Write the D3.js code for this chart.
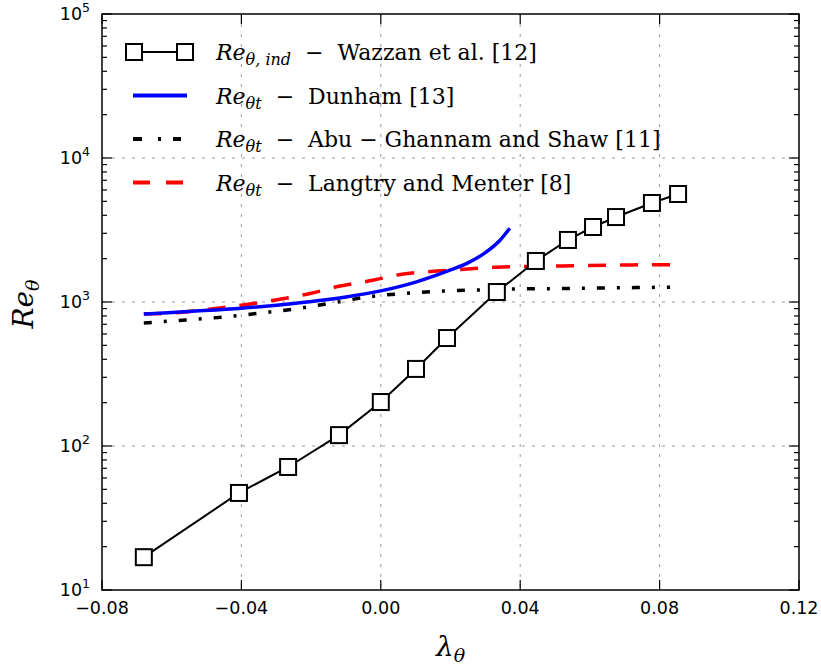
<!DOCTYPE html>
<html>
  <head>
    <meta charset="utf-8">
    <title>Re theta vs lambda theta</title>
    <script src="https://d3js.org/d3.v7.min.js"></script>
    <style>
      body { margin: 0; background: #fff; }
      svg text { fill: #000; }
      .tick-label { font-family: "DejaVu Sans", sans-serif; font-size: 17.5px; }
      .math { font-family: "DejaVu Serif", "Liberation Serif", serif; }
    </style>
  </head>
  <body>
    <div id="chart"></div>
    <script>
      // Wazzan et al. [12] - Re_theta,ind (squares)
      var wazzanLambda = [-0.068, -0.0407, -0.0266, -0.012, 0.0, 0.0101, 0.019, 0.0333, 0.0445, 0.0537, 0.0609, 0.0675, 0.0778, 0.0853];
      var wazzanRe = [16.9, 47.2, 71.5, 119, 202, 343, 562, 1173, 1927, 2697, 3318, 3890, 4870, 5623];

      // Dunham [13]
      var dunhamLambda = [-0.068, -0.055, -0.04, -0.025, -0.01, 0.0, 0.01, 0.02, 0.025, 0.03, 0.034, 0.037];
      var dunhamRe = [825, 860, 905, 978, 1085, 1195, 1375, 1670, 1870, 2200, 2650, 3250];

      // Abu-Ghannam and Shaw [11]
      var agsLambda = [-0.068, -0.056, -0.045, -0.035, -0.024, -0.014, -0.003, 0.0075, 0.018, 0.029, 0.040, 0.051, 0.061, 0.072, 0.083];
      var agsRe = [715, 750, 787, 835, 900, 985, 1090, 1150, 1190, 1215, 1232, 1240, 1250, 1258, 1268];

      // Langtry and Menter [8]
      var lmLambda = [-0.068, -0.057, -0.047, -0.038, -0.029, -0.020, -0.012, -0.002, 0.006, 0.016, 0.025, 0.033, 0.052, 0.072, 0.083];
      var lmRe = [825, 850, 905, 965, 1045, 1150, 1285, 1420, 1560, 1640, 1695, 1745, 1780, 1810, 1815];

      var xTicks = [-0.08, -0.04, 0.0, 0.04, 0.08, 0.12];
      var xTickLabels = ["\u22120.08", "\u22120.04", "0.00", "0.04", "0.08", "0.12"];
      var yExponents = [1, 2, 3, 4, 5];

      var W = 821, H = 666;
      var margin = { left: 102, right: 22, top: 14, bottom: 76 };

      var svg = d3.select("#chart").append("svg")
        .attr("width", W)
        .attr("height", H);

      var x = d3.scaleLinear().domain([-0.08, 0.12]).range([margin.left, W - margin.right]);
      var y = d3.scaleLog().domain([10, 1e5]).range([H - margin.bottom, margin.top]);

      var x0 = x.range()[0], x1 = x.range()[1];
      var y0 = y.range()[0], y1 = y.range()[1];

      // grid
      var grid = svg.append("g")
        .attr("stroke", "#9a9a9a")
        .attr("stroke-width", 1)
        .attr("stroke-dasharray", "3,7");
      grid.selectAll("line.gx")
        .data(xTicks.slice(1, -1))
        .enter().append("line")
          .attr("x1", function(d) { return x(d); })
          .attr("x2", function(d) { return x(d); })
          .attr("y1", y1).attr("y2", y0);
      grid.selectAll("line.gy")
        .data([100, 1000, 10000])
        .enter().append("line")
          .attr("y1", function(d) { return y(d); })
          .attr("y2", function(d) { return y(d); })
          .attr("x1", x0).attr("x2", x1);

      // ticks (inward, on all four sides)
      var ticks = svg.append("g").attr("stroke", "#000").attr("stroke-width", 1.2);
      xTicks.forEach(function(t) {
        ticks.append("line").attr("x1", x(t)).attr("x2", x(t)).attr("y1", y0).attr("y2", y0 - 10);
        ticks.append("line").attr("x1", x(t)).attr("x2", x(t)).attr("y1", y1).attr("y2", y1 + 10);
      });
      var minorVals = [];
      yExponents.forEach(function(e) {
        if (e < 5) {
          for (var m = 2; m <= 9; m++) minorVals.push(m * Math.pow(10, e));
        }
      });
      yExponents.forEach(function(e) {
        var v = Math.pow(10, e);
        ticks.append("line").attr("x1", x0).attr("x2", x0 + 10).attr("y1", y(v)).attr("y2", y(v));
        ticks.append("line").attr("x1", x1).attr("x2", x1 - 10).attr("y1", y(v)).attr("y2", y(v));
      });
      minorVals.forEach(function(v) {
        ticks.append("line").attr("x1", x0).attr("x2", x0 + 5).attr("y1", y(v)).attr("y2", y(v));
        ticks.append("line").attr("x1", x1).attr("x2", x1 - 5).attr("y1", y(v)).attr("y2", y(v));
      });

      // tick labels
      svg.selectAll("text.xl")
        .data(xTicks)
        .enter().append("text")
          .attr("class", "tick-label")
          .attr("x", function(d) { return x(d); })
          .attr("y", y0 + 24)
          .attr("text-anchor", "middle")
          .text(function(d, i) { return xTickLabels[i]; });

      var yl = svg.selectAll("text.yl")
        .data(yExponents)
        .enter().append("text")
          .attr("class", "tick-label")
          .attr("x", x0 - 12)
          .attr("y", function(d) { return y(Math.pow(10, d)) + 6; })
          .attr("text-anchor", "end");
      yl.append("tspan").text("10");
      yl.append("tspan")
        .attr("dy", -8)
        .style("font-size", "12.5px")
        .text(function(d) { return d; });

      // series
      var line = d3.line()
        .x(function(d) { return x(d[0]); })
        .y(function(d) { return y(d[1]); });
      var smooth = d3.line()
        .curve(d3.curveMonotoneX)
        .x(function(d) { return x(d[0]); })
        .y(function(d) { return y(d[1]); });

      var wazzan = d3.zip(wazzanLambda, wazzanRe);
      var dunham = d3.zip(dunhamLambda, dunhamRe);
      var ags = d3.zip(agsLambda, agsRe);
      var lm = d3.zip(lmLambda, lmRe);

      svg.append("path").datum(ags).attr("d", smooth)
        .attr("fill", "none").attr("stroke", "#000").attr("stroke-width", 3.5)
        .attr("stroke-dasharray", "8,12,3,12");
      svg.append("path").datum(lm).attr("d", smooth)
        .attr("fill", "none").attr("stroke", "#ff0000").attr("stroke-width", 3.5)
        .attr("stroke-dasharray", "18,14");
      svg.append("path").datum(dunham).attr("d", smooth)
        .attr("fill", "none").attr("stroke", "#0000ff").attr("stroke-width", 3.5);

      svg.append("path").datum(wazzan).attr("d", line)
        .attr("fill", "none").attr("stroke", "#000").attr("stroke-width", 2);
      svg.selectAll("rect.sq")
        .data(wazzan)
        .enter().append("rect")
          .attr("x", function(d) { return x(d[0]) - 8; })
          .attr("y", function(d) { return y(d[1]) - 8; })
          .attr("width", 16).attr("height", 16)
          .attr("fill", "#fff").attr("stroke", "#000").attr("stroke-width", 2);

      // frame
      svg.append("rect")
        .attr("x", x0).attr("y", y1)
        .attr("width", x1 - x0).attr("height", y0 - y1)
        .attr("fill", "none").attr("stroke", "#000").attr("stroke-width", 1.5);

      // legend
      var legendItems = [
        { sub: "\u03b8, ind", text: "  \u2212  Wazzan et al. [12]", kind: "square" },
        { sub: "\u03b8t", text: "  \u2212  Dunham [13]", kind: "blue" },
        { sub: "\u03b8t", text: "  \u2212  Abu \u2212 Ghannam and Shaw [11]", kind: "dashdot" },
        { sub: "\u03b8t", text: "  \u2212  Langtry and Menter [8]", kind: "red" }
      ];
      var lg = svg.append("g");
      legendItems.forEach(function(it, i) {
        var cy = 52 + i * 43.5;
        if (it.kind === "square") {
          lg.append("line").attr("x1", 134).attr("x2", 185).attr("y1", cy).attr("y2", cy)
            .attr("stroke", "#000").attr("stroke-width", 2);
          [134, 185].forEach(function(px) {
            lg.append("rect").attr("x", px - 8).attr("y", cy - 8).attr("width", 16).attr("height", 16)
              .attr("fill", "#fff").attr("stroke", "#000").attr("stroke-width", 2);
          });
        } else {
          var l = lg.append("line").attr("x1", 133).attr("x2", 187).attr("y1", cy).attr("y2", cy)
            .attr("stroke-width", 4);
          if (it.kind === "blue") l.attr("stroke", "#0000ff");
          if (it.kind === "dashdot") l.attr("stroke", "#000").attr("x2", 181).attr("stroke-dasharray", "9,16,3,12");
          if (it.kind === "red") l.attr("stroke", "#ff0000").attr("x2", 183).attr("stroke-dasharray", "17,16");
        }
        var t = lg.append("text").attr("class", "math")
          .attr("x", 216).attr("y", cy + 8)
          .style("font-size", "22px")
          .style("white-space", "pre")
          .attr("xml:space", "preserve");
        t.append("tspan").style("font-style", "italic").text("Re");
        t.append("tspan").attr("dy", 5).style("font-style", "italic").style("font-size", "16px").text(it.sub);
        t.append("tspan").attr("dy", -5).text(it.text);
      });

      // axis titles
      var xt = svg.append("text").attr("class", "math")
        .attr("x", (x0 + x1) / 2).attr("y", 656)
        .attr("text-anchor", "middle")
        .style("font-size", "28px");
      xt.append("tspan").style("font-style", "italic").text("\u03bb");
      xt.append("tspan").attr("dy", 6).style("font-style", "italic").style("font-size", "19px").text("\u03b8");

      var yt = svg.append("text").attr("class", "math")
        .attr("transform", "translate(33," + ((y0 + y1) / 2 + 2) + ") rotate(-90)")
        .attr("text-anchor", "middle")
        .style("font-size", "28px");
      yt.append("tspan").style("font-style", "italic").text("Re");
      yt.append("tspan").attr("dy", 6).style("font-style", "italic").style("font-size", "19px").text("\u03b8");
    </script>
  </body>
</html>
